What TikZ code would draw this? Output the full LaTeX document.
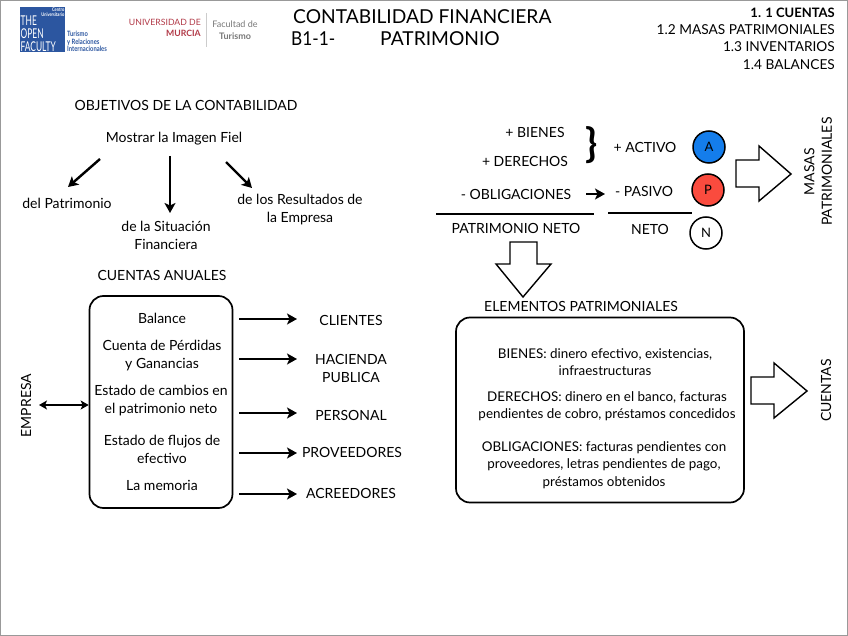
\documentclass[tikz,border=0pt]{standalone}
\usepackage{fontspec}
\usepackage{graphicx}
\setmainfont{Lato}
\usetikzlibrary{arrows.meta}
\definecolor{ofblue}{RGB}{44,86,160}
\definecolor{umred}{RGB}{178,58,72}
\definecolor{fgrey}{RGB}{120,120,120}
\definecolor{cblue}{RGB}{20,125,235}
\definecolor{cred}{RGB}{250,75,62}
\tikzset{
  x=1pt,y=-1pt,
  txt/.style={inner sep=0pt,align=center,yshift=-0.6pt,font=\fontsize{14}{17.5}\selectfont},
  big/.style={inner sep=0pt,align=left,font=\fontsize{19.2}{23}\selectfont},
  head/.style={inner sep=0pt,anchor=east,align=right,font=\fontsize{13.7}{17}\selectfont},
  bodytxt/.style={inner sep=0pt,align=center,font=\fontsize{13.4}{17.5}\selectfont},
  arr/.style={line width=2.4pt,-{Stealth[length=10pt,width=11pt,inset=2.5pt]}},
  thinarr/.style={line width=2pt,{Stealth[length=8pt,width=9pt,inset=2pt]}-{Stealth[length=8pt,width=9pt,inset=2pt]}},
  rule/.style={line width=2pt},
  hollow/.style={draw,line width=1.4pt,fill=white,line join=miter},
  circ/.style={circle,draw,line width=1.5pt,minimum size=32pt,inner sep=0pt,font=\fontsize{13}{15}\selectfont},
  box/.style={draw,line width=1.7pt,rounded corners=14pt},
  logo/.style={inner sep=0pt,align=left}
}
\begin{document}
\begin{tikzpicture}
\useasboundingbox (0,0) rectangle (848,636);
\fill[white] (0,0) rectangle (848,636);
\draw[gray!80,line width=2pt] (0,0) rectangle (848,636);
% logos
\node[fill=ofblue,minimum width=45pt,minimum height=45pt,inner sep=0pt] (oflogo) at (42.5,29.5) {};
\node[logo,anchor=south west,text=white] (oftxt) at (20.5,55) {\scalebox{0.62}[1]{\fontsize{13.5}{11.2}\selectfont\begin{tabular}[b]{@{}l@{}}THE\\OPEN\\FACULTY\end{tabular}}};
\node[logo,anchor=north east,text=white] (ofc) at (64.5,7) {\scalebox{0.8}[1]{\fontsize{5}{5.5}\bfseries\selectfont\begin{tabular}[t]{@{}r@{}}Centro\\Universitario\end{tabular}}};
\node[logo,anchor=north west,text=ofblue] (ofr) at (67,31) {\scalebox{0.8}[1]{\fontsize{7.3}{7.2}\bfseries\selectfont\begin{tabular}[t]{@{}l@{}}Turismo\\y Relaciones\\Internacionales\end{tabular}}};
\node[inner sep=0pt,anchor=east,align=right,text=umred,font=\fontsize{8.7}{11.5}\selectfont] (um) at (201,28) {UNIVERSIDAD DE\\\textbf{MURCIA}};
\draw[gray!40,line width=0.8pt] (206.5,13) -- (206.5,47);
\node[inner sep=0pt,align=center,text=fgrey,font=\fontsize{9}{12}\selectfont] (ft) at (235,30) {Facultad de\\\textbf{Turismo}};
% title
\node[big,anchor=west] (t1) at (293,17) {CONTABILIDAD FINANCIERA};
\node[big,anchor=west] (t2) at (291,39) {\scalebox{0.9}[1]{B1-1-}};
\node[big,anchor=west] (t3) at (380,39) {PATRIMONIO};
\node[head,font=\fontsize{13}{17}\bfseries\selectfont] (h1) at (835,13) {1. 1 CUENTAS};
\node[head] (h2) at (835,30) {1.2 MASAS PATRIMONIALES};
\node[head] (h3) at (835,47) {1.3 INVENTARIOS};
\node[head] (h4) at (835,65) {1.4 BALANCES};
% objetivos
\node[txt] (obj) at (186,105) {OBJETIVOS DE LA CONTABILIDAD};
\node[txt] (img) at (174,138) {Mostrar la Imagen Fiel};
\node[txt] (pat) at (67,203) {del Patrimonio};
\node[txt] (sit) at (166,235) {de la Situación\\Financiera};
\node[txt] (res) at (300,209) {de los Resultados de\\la Empresa};
\coordinate (a1s) at (100,159); \coordinate (a1e) at (68,187);
\coordinate (a2s) at (170,156); \coordinate (a2e) at (170,213);
\coordinate (a3s) at (226,162); \coordinate (a3e) at (252,188);
\draw[arr] (a1s) -- (a1e);
\draw[arr] (a2s) -- (a2e);
\draw[arr] (a3s) -- (a3e);
% cuentas anuales
\node[txt] (ca) at (162,275) {CUENTAS ANUALES};
\node[box,minimum width=143pt,minimum height=212pt,inner sep=0pt] (cbox) at (161,402) {};
\node[txt] (b1) at (162,318) {Balance};
\node[txt] (b2) at (162,355) {Cuenta de Pérdidas\\y Ganancias};
\node[txt] (b3) at (161,400) {Estado de cambios en\\el patrimonio neto};
\node[txt] (b4) at (162,449) {Estado de flujos de\\efectivo};
\node[txt] (b5) at (162,485) {La memoria};
\node[txt,rotate=90] (emp) at (26,405) {EMPRESA};
\coordinate (empa) at (39,405);
\draw[thinarr] (empa) -- (cbox.west |- empa);
\node[txt] (r1) at (351,320) {CLIENTES};
\node[txt] (r2) at (351,368) {HACIENDA\\PUBLICA};
\node[txt] (r3) at (351,415) {PERSONAL};
\node[txt] (r4) at (352,452) {PROVEEDORES};
\node[txt] (r5) at (351,493) {ACREEDORES};
\foreach \n/\y in {1/319,2/359,3/413,4/453,5/494}{
  \coordinate (s\n) at (239,\y);
  \coordinate (e\n) at (297,\y);
  \draw[arr] (s\n) -- (e\n);
}
% right top
\node[txt] (bien) at (535,132) {+ BIENES};
\node[txt] (der) at (525,161) {+ DERECHOS};
\node[inner sep=0pt,font=\fontsize{40}{40}\bfseries\selectfont] (brace) at (592,145) {\}};
\node[txt] (act) at (645,147) {+ ACTIVO};
\node[txt] (obl) at (516,194) {- OBLIGACIONES};
\node[txt] (pas) at (644,191) {- PASIVO};
\coordinate (oa) at (586,194); \coordinate (ob) at (605,194);
\draw[arr,line width=2pt] (oa) -- (ob);
\coordinate (l1a) at (436,214); \coordinate (l1b) at (594,214);
\coordinate (l2a) at (608,213); \coordinate (l2b) at (692,213);
\draw[rule] (l1a) -- (l1b);
\draw[rule] (l2a) -- (l2b);
\node[txt] (pn) at (516,228) {PATRIMONIO NETO};
\node[txt] (neto) at (650,229) {NETO};
\node[circ,fill=cblue] (ca1) at (709,147) {A};
\node[circ,fill=cred] (cp) at (708,190) {P};
\node[circ] (cn) at (706,233) {N};
\draw[hollow] (736,160) -- (759,160) -- (759,146) -- (791,174) -- (759,201) -- (759,187) -- (736,187) -- cycle;
\node[txt,rotate=90] (mas) at (818,171) {MASAS\\PATRIMONIALES};
\draw[hollow] (510,242) -- (537,242) -- (537,264) -- (551,264) -- (523,297) -- (496,264) -- (510,264) -- cycle;
% elementos
\node[txt] (el) at (581,306) {ELEMENTOS PATRIMONIALES};
\node[box,minimum width=288pt,minimum height=185pt,inner sep=0pt] (ebox) at (600,410) {};
\node[bodytxt] (e1) at (605,362) {BIENES: dinero efectivo, existencias,\\infraestructuras};
\node[bodytxt] (e2) at (607,406) {DERECHOS: dinero en el banco, facturas\\pendientes de cobro, préstamos concedidos};
\node[bodytxt] (e3) at (604,465) {OBLIGACIONES: facturas pendientes con\\proveedores, letras pendientes de pago,\\préstamos obtenidos};
\draw[hollow] (751,377) -- (774,377) -- (774,363) -- (807,391) -- (774,418) -- (774,404) -- (751,404) -- cycle;
\node[txt,rotate=90] (cu) at (826,390) {CUENTAS};
\end{tikzpicture}
\end{document}
